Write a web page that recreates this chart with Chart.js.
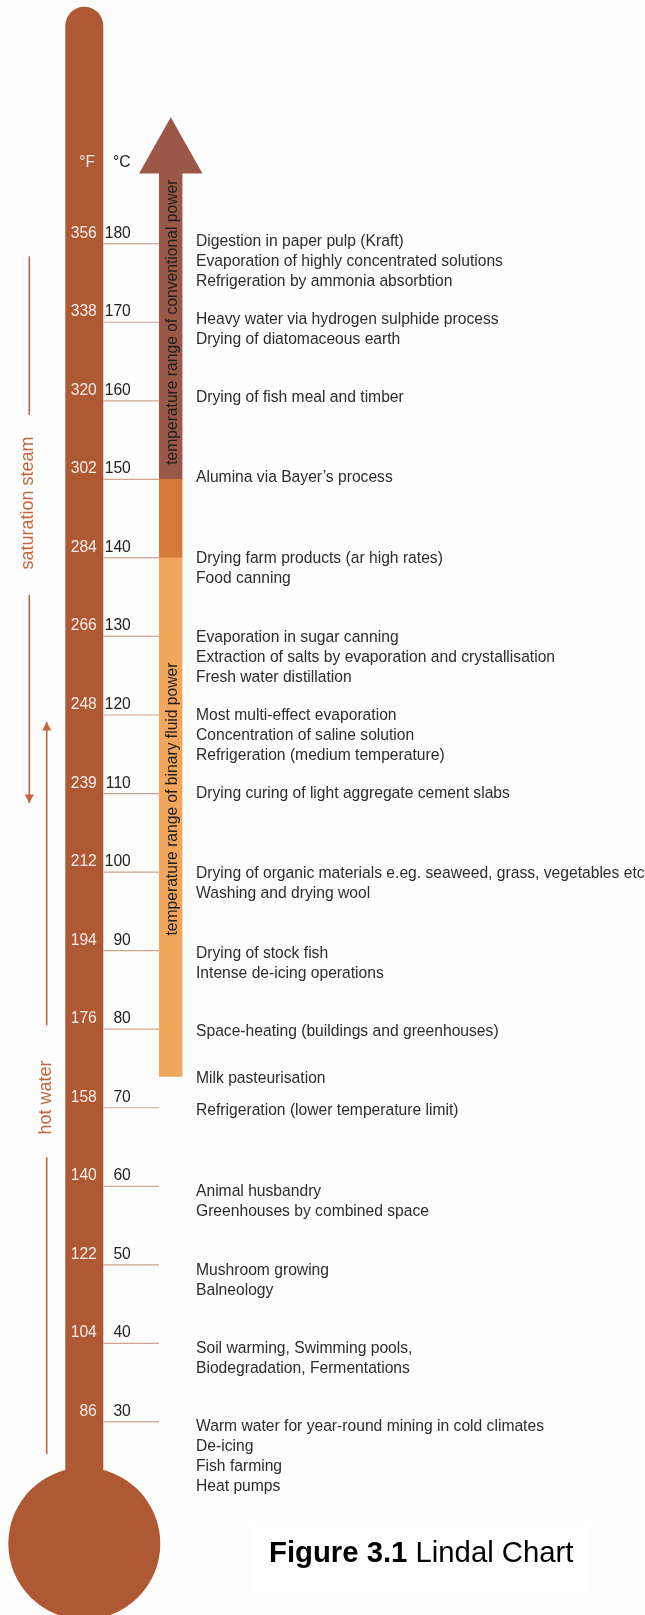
<!DOCTYPE html>
<html><head><meta charset="utf-8">
<script src="https://cdn.jsdelivr.net/npm/chart.js@4.4.0/dist/chart.umd.min.js"></script>
<style>html,body{margin:0;padding:0;background:#fdfdfd;} #wrap{width:645px;height:1615px;}</style>
</head><body><div id="wrap"><canvas id="c" width="645" height="1615"></canvas></div>
<script>
// ---------- DATA (temperatures in °C unless noted) ----------
const celsiusTicks = [180, 170, 160, 150, 140, 130, 120, 110, 100, 90, 80, 70, 60, 50, 40, 30];
const fahrenheitTicks = [356, 338, 320, 302, 284, 266, 248, 239, 212, 194, 176, 158, 140, 122, 104, 86];

const binaryOnlyRange = [74, 140];        // light orange
const overlapRange = [140, 150];          // dark orange
const conventionalRange = [150, 189];     // brown shaft
const conventionalArrowTip = 196.1;       // tip of the arrow
const conventionalLabelAt = 170;
const binaryLabelAt = 109.3;

const saturationSteamSegments = [[178.4, 158.2], [135.3, 108.8]];
const saturationSteamLabelAt = 147.0;
const hotWaterSegments = [[119.1, 80.5], [63.7, 25.9]];
const hotWaterLabelAt = 71.3;

const appTemps = [179.75, 169.8, 159.9, 149.6, 139.4, 129.3, 119.4, 109.4, 99.2, 89.1, 79.1, 73.1, 69.1, 58.8, 48.7, 38.8, 28.8];
const appTexts = [
  ["Digestion in paper pulp (Kraft)", "Evaporation of highly concentrated solutions", "Refrigeration by ammonia absorbtion"],
  ["Heavy water via hydrogen sulphide process", "Drying of diatomaceous earth"],
  ["Drying of fish meal and timber"],
  ["Alumina via Bayer\u2019s process"],
  ["Drying farm products (ar high rates)", "Food canning"],
  ["Evaporation in sugar canning", "Extraction of salts by evaporation and crystallisation", "Fresh water distillation"],
  ["Most multi-effect evaporation", "Concentration of saline solution", "Refrigeration (medium temperature)"],
  ["Drying curing of light aggregate cement slabs"],
  ["Drying of organic materials e.eg. seaweed, grass, vegetables etc", "Washing and drying wool"],
  ["Drying of stock fish", "Intense de-icing operations"],
  ["Space-heating (buildings and greenhouses)"],
  ["Milk pasteurisation"],
  ["Refrigeration (lower temperature limit)"],
  ["Animal husbandry", "Greenhouses by combined space"],
  ["Mushroom growing", "Balneology"],
  ["Soil warming, Swimming pools,", "Biodegradation, Fermentations"],
  ["Warm water for year-round mining in cold climates", "De-icing", "Fish farming", "Heat pumps"]
];

// ---------- STYLE / LAYOUT ----------
const FONT = "'Liberation Sans', Arial, Helvetica, sans-serif";
const TUBE = '#ae5934';
const ARROW = '#9b5849';
const DARK_OR = '#d57b3a';
const LIGHT_OR = '#f2a65c';
const TICK = '#cfa490';
const ACCENT = '#c0673f';
const F_COLOR = '#f6ebe6';
const C_COLOR = '#222222';
const TXT = '#2c2c2c';
const FS = 15.65;
const L = {
  tubeL: 65.3, tubeR: 103.3, tubeTop: 6.7,
  bulbCx: 84.3, bulbCy: 1543.6, bulbR: 76,
  fRight: 96.8, cRight: 130.8, labelUp: 6,
  tickL: 103.3, tickR: 159,
  barL: 159, barR: 182.5, headL: 139, headR: 202.5, barTextBase: 176.7,
  textX: 196, lineGap: 20,
  satX: 29.3, satTextBase: 33.3, hotX: 46.7, hotTextBase: 51
};

const lindalPlugin = {
  id: 'lindal',
  beforeDraw(chart) {
    const ctx = chart.ctx;
    ctx.save();
    ctx.fillStyle = '#fdfdfd';
    ctx.fillRect(0, 0, chart.width, chart.height);
    ctx.fillStyle = '#ffffff';
    ctx.fillRect(250, 1522, 340, 70);
    ctx.restore();
  },
  beforeDatasetsDraw(chart) {
    const ctx = chart.ctx, y = chart.scales.y;
    ctx.save();
    // thermometer tube + bulb
    ctx.fillStyle = TUBE;
    const r = (L.tubeR - L.tubeL) / 2;
    ctx.beginPath();
    ctx.moveTo(L.tubeL, L.bulbCy);
    ctx.lineTo(L.tubeL, L.tubeTop + r);
    ctx.arc(L.tubeL + r, L.tubeTop + r, r, Math.PI, 0);
    ctx.lineTo(L.tubeR, L.bulbCy);
    ctx.closePath();
    ctx.fill();
    ctx.beginPath();
    ctx.arc(L.bulbCx, L.bulbCy, L.bulbR, 0, Math.PI * 2);
    ctx.fill();

    // headers
    ctx.font = `${FS}px ${FONT}`;
    ctx.textBaseline = 'alphabetic';
    ctx.textAlign = 'right';
    ctx.fillStyle = F_COLOR; ctx.fillText('\u00B0F', 95, 166.7);
    ctx.fillStyle = C_COLOR; ctx.fillText('\u00B0C', 130.5, 166.7);

    // ticks
    celsiusTicks.forEach((c, i) => {
      const py = y.getPixelForValue(c);
      ctx.strokeStyle = TICK; ctx.lineWidth = 1.2;
      ctx.beginPath(); ctx.moveTo(L.tickL, py); ctx.lineTo(L.tickR, py); ctx.stroke();
      ctx.textAlign = 'right';
      ctx.fillStyle = F_COLOR; ctx.fillText(String(fahrenheitTicks[i]), L.fRight, py - L.labelUp);
      ctx.fillStyle = C_COLOR; ctx.fillText(String(c), L.cRight, py - L.labelUp);
    });

    // applications
    ctx.textAlign = 'left';
    ctx.fillStyle = TXT;
    appTemps.forEach((t, i) => {
      const py = y.getPixelForValue(t);
      appTexts[i].forEach((line, j) => ctx.fillText(line, L.textX, py + j * L.lineGap));
    });

    // saturation steam / hot water annotations
    ctx.strokeStyle = ACCENT; ctx.fillStyle = ACCENT; ctx.lineWidth = 1.6;
    const seg = (x, a, b) => {
      ctx.beginPath(); ctx.moveTo(x, y.getPixelForValue(a)); ctx.lineTo(x, y.getPixelForValue(b)); ctx.stroke();
    };
    const head = (x, t, dir) => { // dir 1 = pointing down, -1 = up
      const py = y.getPixelForValue(t);
      ctx.beginPath();
      ctx.moveTo(x, py);
      ctx.lineTo(x - 4.6, py - dir * 8.5);
      ctx.lineTo(x + 4.6, py - dir * 8.5);
      ctx.closePath(); ctx.fill();
    };
    saturationSteamSegments.forEach(s => seg(L.satX, s[0], s[1]));
    head(L.satX, saturationSteamSegments[saturationSteamSegments.length - 1][1], 1);
    hotWaterSegments.forEach(s => seg(L.hotX, s[0], s[1]));
    head(L.hotX, hotWaterSegments[0][0], -1);

    const vtext = (txt, x, t, font, color) => {
      ctx.save();
      ctx.translate(x, y.getPixelForValue(t));
      ctx.rotate(-Math.PI / 2);
      ctx.font = font; ctx.fillStyle = color;
      ctx.textAlign = 'center'; ctx.textBaseline = 'alphabetic';
      ctx.fillText(txt, 0, 0);
      ctx.restore();
    };
    vtext('saturation steam', L.satTextBase, saturationSteamLabelAt, `18px ${FONT}`, ACCENT);
    vtext('hot water', L.hotTextBase, hotWaterLabelAt, `18px ${FONT}`, ACCENT);

    // title
    ctx.textAlign = 'left'; ctx.fillStyle = '#000';
    ctx.font = `bold 29.3px ${FONT}`;
    const part1 = 'Figure 3.1';
    ctx.fillText(part1, 269, 1561.7);
    const w1 = ctx.measureText(part1).width;
    ctx.font = `29.3px ${FONT}`;
    ctx.fillText(' Lindal Chart', 269 + w1, 1561.7);
    ctx.restore();
  },
  afterDatasetsDraw(chart) {
    const ctx = chart.ctx, y = chart.scales.y;
    ctx.save();
    // arrow head of conventional power
    const base = y.getPixelForValue(conventionalRange[1]);
    const tip = y.getPixelForValue(conventionalArrowTip);
    ctx.fillStyle = ARROW;
    ctx.beginPath();
    ctx.moveTo((L.barL + L.barR) / 2, tip);
    ctx.lineTo(L.headR, base + 0.5);
    ctx.lineTo(L.headL, base + 0.5);
    ctx.closePath(); ctx.fill();
    const vtext = (txt, x, t) => {
      ctx.save();
      ctx.translate(x, y.getPixelForValue(t));
      ctx.rotate(-Math.PI / 2);
      ctx.font = `${FS}px ${FONT}`; ctx.fillStyle = '#1e1e1e';
      ctx.textAlign = 'center'; ctx.textBaseline = 'alphabetic';
      ctx.fillText(txt, 0, 0);
      ctx.restore();
    };
    vtext('temperature range of conventional power', L.barTextBase, conventionalLabelAt);
    vtext('temperature range of binary fluid power', L.barTextBase, binaryLabelAt);
    ctx.restore();
  }
};

const Y_MIN = 10, Y_MAX = 210;
new Chart(document.getElementById('c'), {
  type: 'bar',
  data: {
    labels: ['power'],
    datasets: [
      { label: 'binary fluid', data: [binaryOnlyRange], backgroundColor: LIGHT_OR },
      { label: 'overlap', data: [overlapRange], backgroundColor: DARK_OR },
      { label: 'conventional', data: [conventionalRange], backgroundColor: ARROW }
    ]
  },
  options: {
    responsive: false,
    animation: false,
    devicePixelRatio: 1,
    layout: { padding: { left: L.barL, right: 645 - L.barR, top: 8.05, bottom: 1615 - 1579.05 } },
    datasets: { bar: { grouped: false, categoryPercentage: 1, barPercentage: 1, borderWidth: 0, borderSkipped: false } },
    scales: {
      x: { display: false },
      y: { display: false, min: Y_MIN, max: Y_MAX }
    },
    plugins: { legend: { display: false }, tooltip: { enabled: false }, title: { display: false } }
  },
  plugins: [lindalPlugin]
});
</script>
</body></html>
